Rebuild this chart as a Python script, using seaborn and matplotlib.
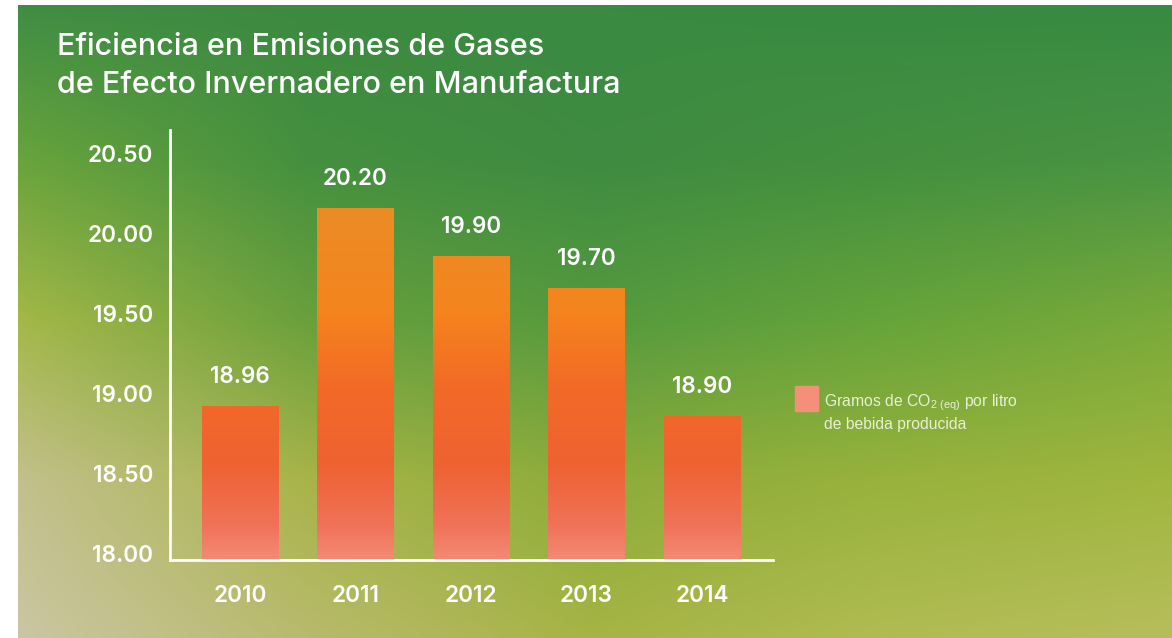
import numpy as np
import pandas as pd
import seaborn as sns
import matplotlib
matplotlib.use("Agg")
import matplotlib.pyplot as plt
import matplotlib.transforms as mtransforms
from matplotlib.colors import to_rgb, LinearSegmentedColormap
from matplotlib.patches import Rectangle

# data
years = ["2010", "2011", "2012", "2013", "2014"]
values = [18.96, 20.20, 19.90, 19.70, 18.90]
value_labels = ["18.96", "20.20", "19.90", "19.70", "18.90"]
yticks = [18.00, 18.50, 19.00, 19.50, 20.00, 20.50]
title_lines = ["Eficiencia en Emisiones de Gases",
               "de Efecto Invernadero en Manufactura"]
legend_lines = [r"Gramos de CO$_{\mathregular{2\ (eq)}}$ por litro",
                "de bebida producida"]

# background colour grid (top -> bottom, left -> right)
bg_rows = [
    ["#3f8d44", "#3c8a40", "#3a8a42", "#388a42", "#378a42"],
    ["#6aa43c", "#45903f", "#3f8c41", "#44903f", "#4a9443"],
    ["#a4b848", "#6aa03c", "#559a3e", "#66a43a", "#7aaa3a"],
    ["#c2c08c", "#a8b448", "#8cac3a", "#98b23c", "#a0b63e"],
    ["#cac6a2", "#b8ba6c", "#a6b444", "#b0bc52", "#b6be5c"],
]
bar_colors = [(0.00, "#f38a74"), (0.08, "#f07258"), (0.22, "#ee6232"),
              (0.40, "#f26a26"), (0.58, "#f5841e"), (0.80, "#ec8c24"),
              (1.00, "#dc8a2e")]

W, H = 1172, 638
sns.set_theme(style="white")
plt.rcParams["font.family"] = ["Inter", "DejaVu Sans"]

fig = plt.figure(figsize=(W / 100, H / 100), dpi=100, facecolor="white")


def upsample(grid, h, w):
    ny, nx = grid.shape[:2]
    gx = np.linspace(0, nx - 1, w)
    gy = np.linspace(0, ny - 1, h)
    tmp = np.stack([np.array([np.interp(gx, np.arange(nx), grid[r, :, c]) for r in range(ny)])
                    for c in range(3)], axis=-1)
    out = np.stack([np.array([np.interp(gy, np.arange(ny), tmp[:, x, c]) for x in range(w)]).T
                    for c in range(3)], axis=-1)
    return out


bg_ax = fig.add_axes([18 / W, 0, 1 - 18 / W, 633 / H])
grid = np.array([[to_rgb(c) for c in row] for row in bg_rows])
bg_ax.imshow(upsample(grid, 160, 290), aspect="auto", interpolation="bilinear")
bg_ax.set_axis_off()

ax = fig.add_axes([170 / W, (H - 560) / H, (773 - 170) / W, (560 - 130) / H])
ax.patch.set_alpha(0)

df = pd.DataFrame({"year": years, "value": values})
sns.barplot(data=df, x="year", y="value", color="#f07a30", width=0.66,
            saturation=1, ax=ax)

ymin, ymax = 18.0, 18.0 + 430 / 160
xlim = (-0.606, 4.615)
cmap = LinearSegmentedColormap.from_list("bars", bar_colors)
grad = np.linspace(ymin, ymax, 256).reshape(-1, 1)
for p in ax.patches:
    x0, w = p.get_x(), p.get_width()
    im = ax.imshow(grad, cmap=cmap, vmin=ymin, vmax=ymax, origin="lower",
                   extent=[x0, x0 + w, ymin, ymax], aspect="auto", zorder=2)
    im.set_clip_path(p)
    p.set_facecolor("none")
    p.set_edgecolor("none")

ax.set_xlim(*xlim)
ax.set_ylim(ymin, ymax)
ax.grid(False)
sns.despine(ax=ax)
for side in ["left", "bottom"]:
    ax.spines[side].set_color("white")
    ax.spines[side].set_linewidth(2)
ax.set_xlabel("")
ax.set_ylabel("")
ax.set_yticks(yticks)
ax.set_yticklabels([f"{v:.2f}" for v in yticks])
ax.tick_params(axis="both", length=0, colors="white", labelsize=16.3)
ax.tick_params(axis="y", pad=12)
ax.tick_params(axis="x", pad=18)
for lbl in ax.get_yticklabels() + ax.get_xticklabels():
    lbl.set_fontweight("semibold")
shift = mtransforms.ScaledTranslation(0, 7 / 100, fig.dpi_scale_trans)
for lbl in ax.get_yticklabels():
    lbl.set_transform(lbl.get_transform() + shift)

ax.bar_label(ax.containers[0], labels=value_labels, padding=13,
             color="white", fontsize=16.2, fontweight="semibold")

# title
for i, line in enumerate(title_lines):
    fig.text(57 / W, 1 - (55 + 38 * i) / H, line, fontsize=22, color="white",
             va="baseline", fontweight="medium")

# legend
fig.add_artist(Rectangle((795 / W, 1 - 411 / H), 23 / W, 25 / H,
                         transform=fig.transFigure, color="#f4907a"))
for i, line in enumerate(legend_lines):
    fig.text(824 / W, 1 - (406 + 23 * i) / H, line, fontsize=11.3,
             color="#e8f0d2", va="baseline", family=["Liberation Sans", "DejaVu Sans"])

fig.savefig("out.png", dpi=100, facecolor="white")
